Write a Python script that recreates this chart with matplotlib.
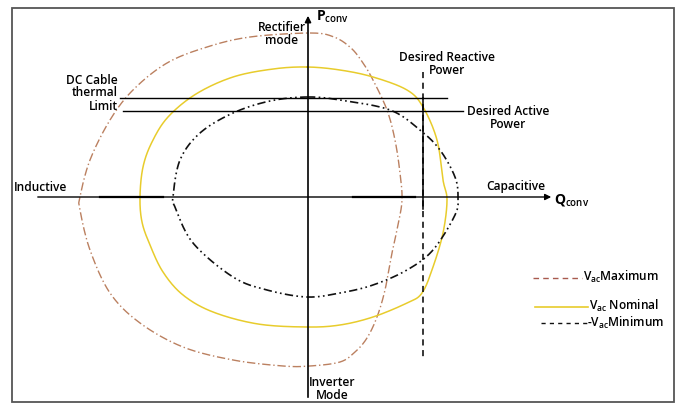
import numpy as np
import matplotlib
matplotlib.use('Agg')
import matplotlib.pyplot as plt
from matplotlib.patches import Rectangle

plt.rcParams['font.family'] = ['Open Sans', 'DejaVu Sans']
plt.rcParams['mathtext.fontset'] = 'custom'
plt.rcParams['mathtext.rm'] = 'Open Sans:semibold'
plt.rcParams['mathtext.it'] = 'Open Sans:semibold'
plt.rcParams['mathtext.bf'] = 'Open Sans:bold'

# capability curves, traced as (Q, P) points, going clockwise from the top
q_max = [2, 26, 43, 55, 65, 79, 87, 92, 94, 90, 84, 77, 69, 59, 47, 32, 2, -25, -75, -125, -168,
         -198, -218, -228, -228, -218, -198, -175, -141, -101, -58]
p_max = [164, 160, 149, 134, 117, 87, 57, 24, -3, -28, -56, -93, -120, -141, -155, -165, -169, -169, -163, -150, -126,
         -96, -53, -13, 0, 37, 77, 107, 134, 150, 160]

q_nom = [-1, 32, 65, 99, 115, 129, 135, 139, 135, 125, 114, 99, 65, 32, -1, -50, -95, -125, -145, -158, -166,
         -168, -165, -156, -140, -112, -75, -35]
p_nom = [130, 127, 120, 107, 90, 57, 17, -3, -36, -70, -96, -106, -120, -128, -130, -127, -115, -98, -75, -48, -25,
         0, 30, 55, 80, 103, 120, 128]

q_min = [-1, 32, 82, 112, 132, 147, 150, 147, 125, 99, 65, 32, -1, -41, -75, -115, -133, -135, -128, -108, -75, -38]
p_min = [100, 97, 87, 67, 47, 20, 0, -18, -53, -73, -88, -96, -100, -93, -80, -46, -10, 0, 37, 64, 84, 96]

# limits
dc_limit_p = 99
dc_limit_q = (-188, 139)
active_p = 86
active_q = (-185, 155)
reactive_q = 115
reactive_p = (125, -161)


def smooth_closed(qs, ps, n=24):
    # periodic Catmull-Rom through the traced points, only to draw a smooth outline
    pts = np.column_stack([qs, ps]).astype(float)
    m = len(pts)
    out = []
    t = np.linspace(0, 1, n, endpoint=False)[:, None]
    for i in range(m):
        p0, p1, p2, p3 = pts[(i - 1) % m], pts[i], pts[(i + 1) % m], pts[(i + 2) % m]
        seg = 0.5 * ((2 * p1) + (-p0 + p2) * t + (2 * p0 - 5 * p1 + 4 * p2 - p3) * t ** 2
                     + (-p0 + 3 * p1 - 3 * p2 + p3) * t ** 3)
        out.append(seg)
    out = np.vstack(out + [pts[:1]])
    return out[:, 0], out[:, 1]


fig = plt.figure(figsize=(6.78, 4.05), dpi=100)
ax = fig.add_axes([0, 0, 1, 1])
ax.set_xlim(-308, 370)
ax.set_ylim(-208, 197)
ax.axis('off')

ax.add_patch(Rectangle((-296, -205), 662, 394, fill=False, ec='#555555', lw=1.3))

c_max = '#bb8060'
c_nom = '#e8cc2c'
c_min = '#111111'

ax.plot(*smooth_closed(q_max, p_max), color=c_max, lw=1.0, dashes=(6, 2, 1, 2))
ax.plot(*smooth_closed(q_nom, p_nom), color=c_nom, lw=1.1)
ax.plot(*smooth_closed(q_min, p_min), color=c_min, lw=1.2, dashes=(5, 2, 1, 2, 1, 2))

# axes of the diagram
ax.annotate('', xy=(246, 0), xytext=(-273, 0),
            arrowprops=dict(arrowstyle='-|>', color='black', lw=1.0, mutation_scale=9))
ax.plot([-208, -145], [0, 0], color='black', lw=1.6)
ax.plot([45, 107], [0, 0], color='black', lw=1.6)
ax.annotate('', xy=(0, 184), xytext=(0, -203),
            arrowprops=dict(arrowstyle='-|>', color='black', lw=1.2, mutation_scale=9))

ax.plot(dc_limit_q, [dc_limit_p, dc_limit_p], color='black', lw=1.0)
ax.plot(active_q, [active_p, active_p], color='black', lw=1.0)
ax.plot([reactive_q, reactive_q], reactive_p, color='black', lw=1.1, dashes=(4, 3))
ax.plot([reactive_q, reactive_q], [dc_limit_p, -12], color='black', lw=1.1)

fs = 8.6
fw = 'semibold'
ax.text(8, 180, r'P$_{\mathrm{conv}}$', fontsize=10, fontweight='bold', va='center', ha='left')
ax.text(246, -3, r'Q$_{\mathrm{conv}}$', fontsize=10, fontweight='bold', va='center', ha='left')
ax.text(-26, 163, 'Rectifier\nmode', fontsize=fs, fontweight=fw, ha='center', va='center', linespacing=1.0)
ax.text(-190, 104, 'DC Cable\nthermal\nLimit', fontsize=fs, fontweight=fw, ha='right', va='center', linespacing=1.0)
ax.text(139, 133, 'Desired Reactive\nPower', fontsize=fs, fontweight=fw, ha='center', va='center', linespacing=1.0)
ax.text(200, 79, 'Desired Active\nPower', fontsize=fs, fontweight=fw, ha='center', va='center', linespacing=1.0)
ax.text(-294, 9, 'Inductive', fontsize=fs, fontweight=fw, ha='left', va='center')
ax.text(208, 10, 'Capacitive', fontsize=fs, fontweight=fw, ha='center', va='center')
ax.text(24, -192, 'Inverter\nMode', fontsize=fs, fontweight=fw, ha='center', va='center', linespacing=1.0)

# legend
ax.plot([225, 274], [-81, -81], color='#a85a4e', lw=1.0, dashes=(4, 3))
ax.text(275, -80, r'V$_{\mathrm{ac}}$Maximum', fontsize=fs, fontweight=fw, ha='left', va='center')
ax.plot([227, 280], [-110, -110], color=c_nom, lw=1.2)
ax.text(281, -109, r'V$_{\mathrm{ac}}$ Nominal', fontsize=fs, fontweight=fw, ha='left', va='center')
ax.plot([233, 280], [-126, -126], color=c_min, lw=1.0, dashes=(3, 3))
ax.text(279, -126, r'-V$_{\mathrm{ac}}$Minimum', fontsize=fs, fontweight=fw, ha='left', va='center')

plt.savefig('out.png', dpi=100)
